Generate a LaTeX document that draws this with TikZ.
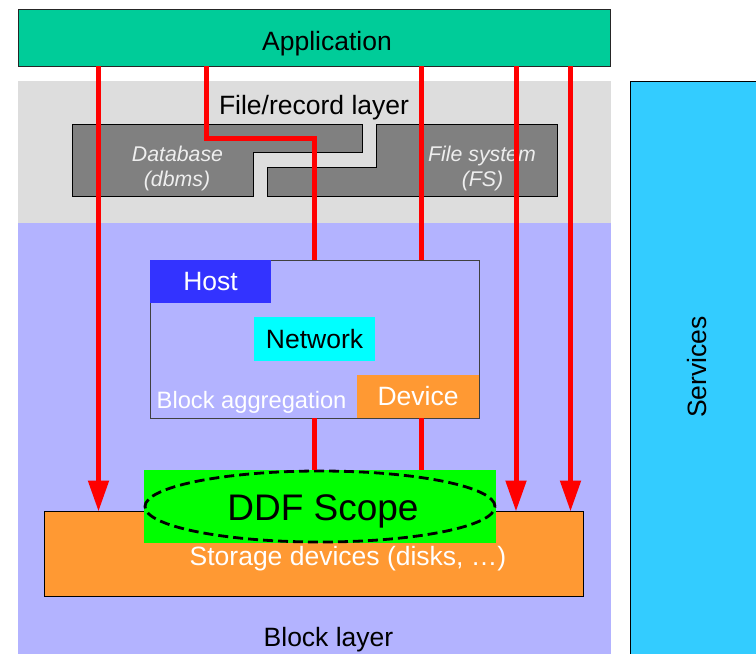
\documentclass[tikz,border=0pt]{standalone}
\usepackage{fontspec}
\setmainfont{Liberation Sans}
\usetikzlibrary{arrows.meta}
\definecolor{appgreen}{HTML}{00CC99}
\definecolor{filegray}{HTML}{DDDDDD}
\definecolor{blocklav}{HTML}{B3B3FF}
\definecolor{dbgray}{HTML}{808080}
\definecolor{hostblue}{HTML}{3333FF}
\definecolor{netcyan}{HTML}{00FFFF}
\definecolor{devorange}{HTML}{FF9933}
\definecolor{ddfgreen}{HTML}{00FF00}
\definecolor{servblue}{HTML}{33CCFF}
\definecolor{dbtext}{HTML}{EEEEEE}
\tikzset{
  box/.style={rectangle, inner sep=0pt, outer sep=0pt, anchor=north west},
  bigfont/.style={font=\fontsize{26.5}{30}\selectfont},
  midfont/.style={font=\fontsize{23.7}{28}\selectfont},
  smallit/.style={font=\fontsize{21.3}{25}\selectfont\itshape, text=dbtext},
  txt/.style={inner sep=0pt, anchor=base},
  redline/.style={draw=red, line width=5pt},
  redarrow/.style={redline, -{Triangle[length=31pt,width=20pt]}},
  dbshape/.style={fill=dbgray, draw=black, line width=0.8pt},
}
\begin{document}
\begin{tikzpicture}[x=1pt,y=-1pt]
\useasboundingbox (0,0) rectangle (756,654);
% layers
\node[box, fill=filegray, minimum width=593pt, minimum height=142pt] (filelayer) at (18,81) {};
\node[box, fill=blocklav, minimum width=593pt, minimum height=432pt] (blocklayer) at (18,223) {};
\node[box, fill=servblue, draw=black, line width=0.8pt, minimum width=130pt, minimum height=580pt] (services) at (630,81) {};
\node[txt, bigfont, rotate=90] (servtext) at (706.7,367) {Services};
% application
\node[box, fill=appgreen, draw=black!85, line width=0.8pt, minimum width=592pt, minimum height=57pt] (app) at (18,9) {};
\node[txt, bigfont] (apptext) at (327,50) {Application};
% file/record layer
\node[txt, bigfont] (filetext) at (314,114) {File/record layer};
\draw[dbshape] (72,124) -- (362,124) -- (362,152) -- (253,152) -- (253,196) -- (72,196) -- cycle;
\draw[dbshape] (376,124) -- (557,124) -- (557,196) -- (267,196) -- (267,167) -- (376,167) -- cycle;
\node[txt, smallit] (dbname) at (177.5,161) {Database};
\node[txt, smallit] (dbsub) at (177,186) {(dbms)};
\node[txt, smallit] (fsname) at (482,161) {File system};
\node[txt, smallit] (fssub) at (482.5,186) {(FS)};
% block aggregation
\node[box, fill=blocklav, draw=black!75, line width=0.8pt, minimum width=329pt, minimum height=158pt] (agg) at (150,260) {};
\node[box, fill=hostblue, text=white, bigfont, minimum width=121pt, minimum height=43pt] (host) at (150,260) {Host};
\node[box, fill=netcyan, bigfont, minimum width=121pt, minimum height=44pt] (network) at (254,317) {Network};
\node[box, fill=devorange, text=white, bigfont, minimum width=122pt, minimum height=43pt] (device) at (357,375) {Device};
\node[txt, midfont, text=white, anchor=base west] (aggtext) at (156.5,408.3) {Block aggregation};
% storage
\node[box, fill=devorange, draw=black, line width=0.8pt, minimum width=539pt, minimum height=85pt] (storage) at (44,511.5) {};
\node[txt, bigfont, text=white] (stortext) at (348,565) {Storage devices (disks, …)};
\node[box, fill=ddfgreen, minimum width=352pt, minimum height=73pt] (ddf) at (144,470) {};
\draw[black, line width=2.8pt, dash pattern=on 10pt off 5pt] (ddf.center) ellipse [x radius=175pt, y radius=35.5pt];
\node[txt, font=\fontsize{37}{42}\selectfont] (ddftext) at (323,520) {DDF Scope};
\node[txt, bigfont] (blocktext) at (328.5,646.5) {Block layer};
% red connectors
\coordinate (c1) at (98.5,0);
\coordinate (c2) at (206,0);
\coordinate (bend) at (314,138.5);
\coordinate (c4) at (421.7,0);
\coordinate (c5) at (516,0);
\coordinate (c6) at (570.5,0);
\draw[redarrow] (c1 |- app.south) -- (c1 |- storage.north);
\draw[redline] (c2 |- app.south) |- (bend) -- (bend |- agg.north);
\draw[redline] (bend |- agg.south) -- (bend |- ddf.north);
\draw[redline] (c4 |- app.south) -- (c4 |- agg.north);
\draw[redline] (c4 |- agg.south) -- (c4 |- ddf.north);
\draw[redarrow] (c5 |- app.south) -- (c5 |- storage.north);
\draw[redarrow] (c6 |- app.south) -- (c6 |- storage.north);
\end{tikzpicture}
\end{document}
